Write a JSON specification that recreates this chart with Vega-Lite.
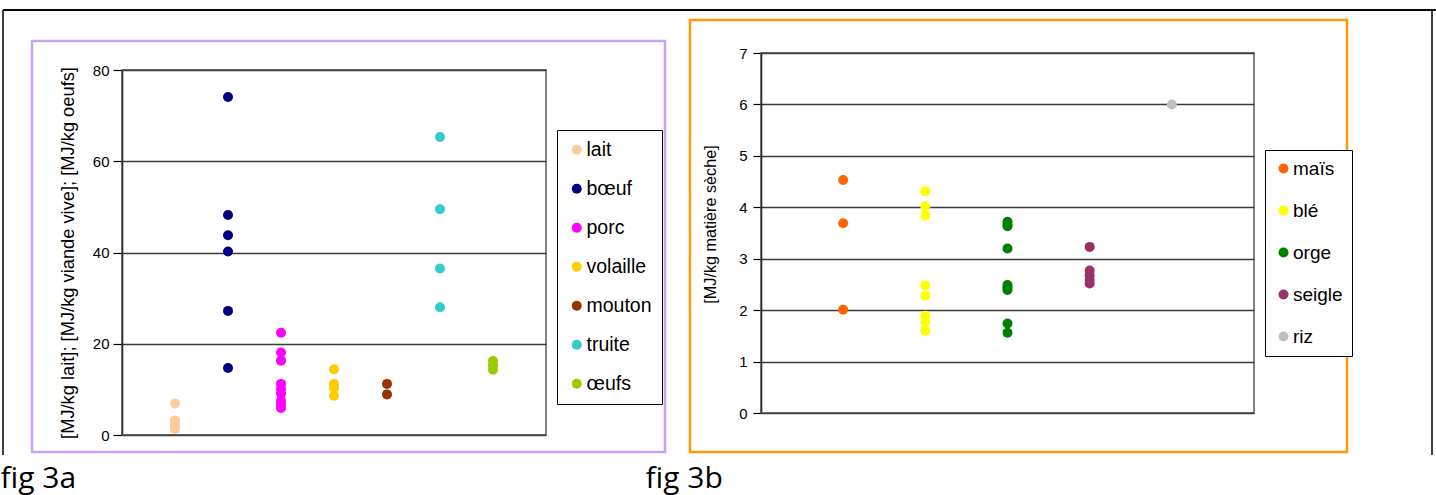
{
  "$schema": "https://vega.github.io/schema/vega-lite/v6.json",
  "width": 1436,
  "height": 495,
  "autosize": {"type": "none"},
  "padding": 0,
  "background": "white",
  "config": {
    "view": {"stroke": null},
    "font": "Liberation Sans",
    "axis": {"labelColor": "black", "titleColor": "black", "titleFontWeight": "normal"}
  },
  "datasets": {
    "animaux": [
      {"produit": "lait", "x": 1, "valeur": 6.9},
      {"produit": "lait", "x": 1, "valeur": 3.2},
      {"produit": "lait", "x": 1, "valeur": 2.7},
      {"produit": "lait", "x": 1, "valeur": 2.2},
      {"produit": "lait", "x": 1, "valeur": 1.7},
      {"produit": "lait", "x": 1, "valeur": 1.3},
      {"produit": "bœuf", "x": 2, "valeur": 74.1},
      {"produit": "bœuf", "x": 2, "valeur": 48.2},
      {"produit": "bœuf", "x": 2, "valeur": 43.8},
      {"produit": "bœuf", "x": 2, "valeur": 40.2},
      {"produit": "bœuf", "x": 2, "valeur": 27.2},
      {"produit": "bœuf", "x": 2, "valeur": 14.7},
      {"produit": "porc", "x": 3, "valeur": 22.4},
      {"produit": "porc", "x": 3, "valeur": 18.1},
      {"produit": "porc", "x": 3, "valeur": 16.3},
      {"produit": "porc", "x": 3, "valeur": 11.2},
      {"produit": "porc", "x": 3, "valeur": 10.1},
      {"produit": "porc", "x": 3, "valeur": 9.1},
      {"produit": "porc", "x": 3, "valeur": 7.5},
      {"produit": "porc", "x": 3, "valeur": 6.7},
      {"produit": "porc", "x": 3, "valeur": 5.9},
      {"produit": "volaille", "x": 4, "valeur": 14.4},
      {"produit": "volaille", "x": 4, "valeur": 11.2},
      {"produit": "volaille", "x": 4, "valeur": 10.3},
      {"produit": "volaille", "x": 4, "valeur": 8.6},
      {"produit": "mouton", "x": 5, "valeur": 11.2},
      {"produit": "mouton", "x": 5, "valeur": 8.9},
      {"produit": "truite", "x": 6, "valeur": 65.3},
      {"produit": "truite", "x": 6, "valeur": 49.5},
      {"produit": "truite", "x": 6, "valeur": 36.5},
      {"produit": "truite", "x": 6, "valeur": 28.0},
      {"produit": "œufs", "x": 7, "valeur": 16.2},
      {"produit": "œufs", "x": 7, "valeur": 15.3},
      {"produit": "œufs", "x": 7, "valeur": 14.3}
    ],
    "cereales": [
      {"culture": "maïs", "x": 1, "valeur": 4.53},
      {"culture": "maïs", "x": 1, "valeur": 3.69},
      {"culture": "maïs", "x": 1, "valeur": 2.01},
      {"culture": "blé", "x": 2, "valeur": 4.31},
      {"culture": "blé", "x": 2, "valeur": 4.02},
      {"culture": "blé", "x": 2, "valeur": 3.84},
      {"culture": "blé", "x": 2, "valeur": 2.48},
      {"culture": "blé", "x": 2, "valeur": 2.28},
      {"culture": "blé", "x": 2, "valeur": 1.89},
      {"culture": "blé", "x": 2, "valeur": 1.77},
      {"culture": "blé", "x": 2, "valeur": 1.60},
      {"culture": "orge", "x": 3, "valeur": 3.72},
      {"culture": "orge", "x": 3, "valeur": 3.67},
      {"culture": "orge", "x": 3, "valeur": 3.63},
      {"culture": "orge", "x": 3, "valeur": 3.20},
      {"culture": "orge", "x": 3, "valeur": 2.49},
      {"culture": "orge", "x": 3, "valeur": 2.44},
      {"culture": "orge", "x": 3, "valeur": 2.39},
      {"culture": "orge", "x": 3, "valeur": 1.74},
      {"culture": "orge", "x": 3, "valeur": 1.56},
      {"culture": "seigle", "x": 4, "valeur": 3.23},
      {"culture": "seigle", "x": 4, "valeur": 2.77},
      {"culture": "seigle", "x": 4, "valeur": 2.68},
      {"culture": "seigle", "x": 4, "valeur": 2.59},
      {"culture": "seigle", "x": 4, "valeur": 2.52},
      {"culture": "riz", "x": 5, "valeur": 6.0}
    ]
  },
  "layer": [
    {
      "layer": [
        {
          "data": {"values": [{}]},
          "mark": {"type": "rect", "fill": "transparent", "stroke": "#C9A3F5", "strokeWidth": 2.5},
          "encoding": {
            "x": {"datum": -1.698},
            "x2": {"datum": 10.245},
            "y": {"datum": 86.36},
            "y2": {"datum": -3.726}
          }
        },
        {
          "data": {"values": [{}]},
          "mark": {"type": "rule", "stroke": "black", "strokeWidth": 2},
          "encoding": {
            "x": {"datum": -2.245},
            "x2": {"datum": 24.79},
            "y": {"datum": 93.15}
          }
        },
        {
          "data": {"values": [{}]},
          "mark": {"type": "rule", "stroke": "black", "strokeWidth": 1.5},
          "encoding": {
            "x": {"datum": -2.245},
            "y": {"datum": 93.15},
            "y2": {"datum": -4.38}
          }
        },
        {
          "data": {"values": [{}]},
          "mark": {"type": "rule", "stroke": "black", "strokeWidth": 1.5},
          "encoding": {
            "x": {"datum": 24.717},
            "y": {"datum": 93.15},
            "y2": {"datum": -4.38}
          }
        },
        {
          "data": {"values": [{}]},
          "mark": {"type": "rect", "fill": "transparent", "stroke": "#444444", "strokeWidth": 1.3},
          "encoding": {
            "x": {"datum": 0},
            "x2": {"datum": 8},
            "y": {"datum": 0},
            "y2": {"datum": 80}
          }
        },
        {
          "data": {"name": "animaux"},
          "mark": {"type": "circle", "size": 100, "opacity": 1},
          "encoding": {
            "x": {
              "field": "x",
              "type": "quantitative",
              "scale": {"domain": [0, 8], "range": [122, 546], "nice": false, "zero": false},
              "axis": {
                "orient": "bottom",
                "domain": false,
                "ticks": false,
                "labels": false,
                "grid": false,
                "title": "fig 3a",
                "titleX": 0,
                "titleY": -8,
                "titleAlign": "left",
                "titleBaseline": "alphabetic",
                "titleFont": "Open Sans",
                "titleFontSize": 30,
                "titleFontWeight": "normal"
              }
            },
            "y": {
              "field": "valeur",
              "type": "quantitative",
              "scale": {"domain": [0, 80], "range": [435, 70], "nice": false, "zero": false},
              "axis": {
                "orient": "left",
                "offset": -122,
                "values": [0, 20, 40, 60, 80],
                "format": "d",
                "domain": true,
                "domainColor": "black",
                "domainWidth": 1.5,
                "ticks": true,
                "tickSize": 9,
                "tickColor": "black",
                "tickWidth": 1.2,
                "labelFontSize": 15,
                "labelPadding": 4,
                "grid": true,
                "gridColor": "#3a3a3a",
                "gridWidth": 1.3,
                "title": "[MJ/kg lait]; [MJ/kg viande vive]; [MJ/kg oeufs]",
                "titleFontSize": 18.3,
                "titlePadding": 15
              }
            },
            "color": {
              "field": "produit",
              "type": "nominal",
              "scale": {
                "domain": ["lait", "bœuf", "porc", "volaille", "mouton", "truite", "œufs"],
                "range": ["#FFCC99", "#000080", "#FF00FF", "#FFCC00", "#993300", "#33CCCC", "#99CC00"]
              },
              "legend": {
                "orient": "none",
                "legendX": 557,
                "legendY": 130,
                "title": null,
                "strokeColor": "black",
                "fillColor": "white",
                "padding": 10,
                "symbolType": "circle",
                "symbolSize": 100,
                "symbolStrokeWidth": 0,
                "symbolOpacity": 1,
                "labelFontSize": 19.5,
                "labelColor": "black",
                "labelOffset": 0,
                "rowPadding": 18
              }
            }
          }
        }
      ]
    },
    {
      "layer": [
        {
          "data": {"values": [{}]},
          "mark": {"type": "rect", "fill": "transparent", "stroke": "#FF9900", "strokeWidth": 2.5},
          "encoding": {
            "x": {"datum": -0.864},
            "x2": {"datum": 7.132},
            "y": {"datum": 7.642},
            "y2": {"datum": -0.758}
          }
        },
        {
          "data": {"values": [{}]},
          "mark": {"type": "rect", "fill": "transparent", "stroke": "#444444", "strokeWidth": 1.3},
          "encoding": {
            "x": {"datum": 0},
            "x2": {"datum": 6},
            "y": {"datum": 0},
            "y2": {"datum": 7}
          }
        },
        {
          "data": {"name": "cereales"},
          "mark": {"type": "circle", "size": 100, "opacity": 1},
          "encoding": {
            "x": {
              "field": "x",
              "type": "quantitative",
              "scale": {"domain": [0, 6], "range": [761, 1254], "nice": false, "zero": false},
              "axis": {
                "orient": "bottom",
                "domain": false,
                "ticks": false,
                "labels": false,
                "grid": false,
                "title": "fig 3b",
                "titleX": 645,
                "titleY": -8,
                "titleAlign": "left",
                "titleBaseline": "alphabetic",
                "titleFont": "Open Sans",
                "titleFontSize": 30,
                "titleFontWeight": "normal"
              }
            },
            "y": {
              "field": "valeur",
              "type": "quantitative",
              "scale": {"domain": [0, 7], "range": [413, 53], "nice": false, "zero": false},
              "axis": {
                "orient": "left",
                "offset": -761,
                "values": [0, 1, 2, 3, 4, 5, 6, 7],
                "format": "d",
                "domain": true,
                "domainColor": "black",
                "domainWidth": 1.5,
                "ticks": true,
                "tickSize": 8,
                "tickColor": "black",
                "tickWidth": 1.2,
                "labelFontSize": 15,
                "labelPadding": 6,
                "grid": true,
                "gridColor": "#3a3a3a",
                "gridWidth": 1.3,
                "title": "[MJ/kg matière sèche]",
                "titleFontSize": 16.2,
                "titlePadding": 20,
                "titleY": 224
              }
            },
            "color": {
              "field": "culture",
              "type": "nominal",
              "scale": {
                "domain": ["maïs", "blé", "orge", "seigle", "riz"],
                "range": ["#FF6600", "#FFFF00", "#008000", "#993366", "#C0C0C0"]
              },
              "legend": {
                "orient": "none",
                "legendX": 1265,
                "legendY": 150,
                "title": null,
                "strokeColor": "black",
                "fillColor": "white",
                "padding": 9,
                "symbolType": "circle",
                "symbolSize": 100,
                "symbolStrokeWidth": 0,
                "symbolOpacity": 1,
                "labelFontSize": 19,
                "labelColor": "black",
                "labelOffset": 0,
                "rowPadding": 22
              }
            }
          }
        }
      ]
    }
  ],
  "resolve": {
    "scale": {"x": "independent", "y": "independent", "color": "independent"},
    "axis": {"x": "independent", "y": "independent"},
    "legend": {"color": "independent"}
  }
}
